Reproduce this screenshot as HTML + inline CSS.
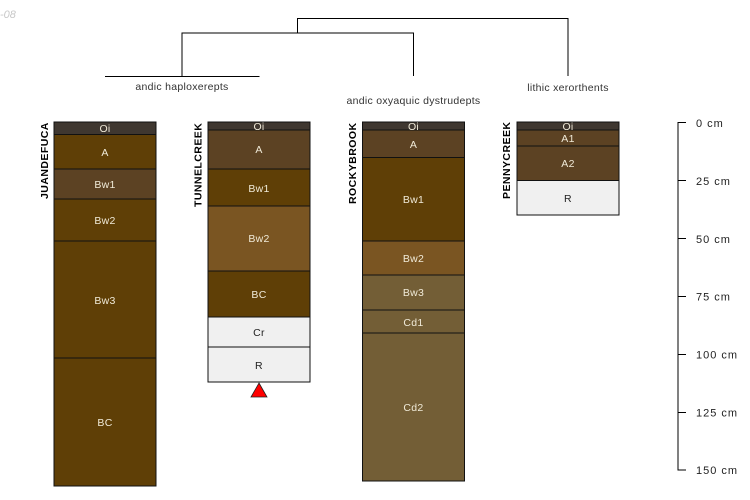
<!DOCTYPE html>
<html><head><meta charset="utf-8"><style>
html,body{margin:0;padding:0;background:#fff}
svg{display:block}
text{font-family:"Liberation Sans",sans-serif;font-size:10.5px}
.c{text-anchor:middle;fill:#f0ead8;letter-spacing:.3px}
.d{text-anchor:middle;fill:#222;letter-spacing:.3px}
.n{font-weight:bold;font-size:10.5px;fill:#000;letter-spacing:.45px}
.l{fill:#333;text-anchor:middle;letter-spacing:.28px}
text.s{font-size:11px;letter-spacing:1px;fill:#222}
</style></head><body>
<svg width="750" height="500" viewBox="0 0 750 500" xmlns="http://www.w3.org/2000/svg">
<text x="0" y="18" style="font-style:italic;font-size:11px" fill="#c8c8c8">-08</text>

<g fill="none" stroke="#000" stroke-width="1">
<path d="M297.5 33V18.5H568V76" />
<path d="M182 76V33H413.5V76" />
<path d="M105 76.5H259.5" />
</g>
<text class="l" x="182" y="90">andic haploxerepts</text>
<text class="l" x="413.5" y="104">andic oxyaquic dystrudepts</text>
<text class="l" x="568" y="91">lithic xerorthents</text>

<g stroke="#111" stroke-width="1">
<rect x="54" y="122" width="102" height="12.5" fill="#3f3730"/>
<rect x="54" y="134.5" width="102" height="34.5" fill="#5f3f06"/>
<rect x="54" y="169" width="102" height="30" fill="#5c4223"/>
<rect x="54" y="199" width="102" height="42" fill="#5f3f06"/>
<rect x="54" y="241" width="102" height="117" fill="#5f3f06"/>
<rect x="54" y="358" width="102" height="128" fill="#5f3f06"/>

<rect x="208" y="122" width="102" height="8" fill="#3f3730"/>
<rect x="208" y="130" width="102" height="39" fill="#5c4223"/>
<rect x="208" y="169" width="102" height="37" fill="#5f3f06"/>
<rect x="208" y="206" width="102" height="65" fill="#7a5522"/>
<rect x="208" y="271" width="102" height="46" fill="#5f3f06"/>
<rect x="208" y="317" width="102" height="30" fill="#f0f0f0"/>
<rect x="208" y="347" width="102" height="35" fill="#f0f0f0"/>

<rect x="362.5" y="122" width="102" height="8" fill="#3f3730"/>
<rect x="362.5" y="130" width="102" height="27.5" fill="#5c4223"/>
<rect x="362.5" y="157.5" width="102" height="83.5" fill="#5f3f06"/>
<rect x="362.5" y="241" width="102" height="34" fill="#7a5522"/>
<rect x="362.5" y="275" width="102" height="35" fill="#735e36"/>
<rect x="362.5" y="310" width="102" height="23" fill="#735e36"/>
<rect x="362.5" y="333" width="102" height="148" fill="#735e36"/>

<rect x="517" y="122" width="102" height="8" fill="#3f3730"/>
<rect x="517" y="130" width="102" height="16" fill="#5c4223"/>
<rect x="517" y="146" width="102" height="34.5" fill="#5c4223"/>
<rect x="517" y="180.5" width="102" height="34.5" fill="#f0f0f0"/>
</g>

<text class="c" x="105" y="132">Oi</text>
<text class="c" x="105" y="156">A</text>
<text class="c" x="105" y="188">Bw1</text>
<text class="c" x="105" y="224">Bw2</text>
<text class="c" x="105" y="304">Bw3</text>
<text class="c" x="105" y="426">BC</text>

<text class="c" x="259" y="130">Oi</text>
<text class="c" x="259" y="153">A</text>
<text class="c" x="259" y="192">Bw1</text>
<text class="c" x="259" y="242">Bw2</text>
<text class="c" x="259" y="298">BC</text>
<text class="d" x="259" y="336">Cr</text>
<text class="d" x="259" y="369">R</text>

<text class="c" x="413.5" y="130">Oi</text>
<text class="c" x="413.5" y="148">A</text>
<text class="c" x="413.5" y="203">Bw1</text>
<text class="c" x="413.5" y="262">Bw2</text>
<text class="c" x="413.5" y="296">Bw3</text>
<text class="c" x="413.5" y="326">Cd1</text>
<text class="c" x="413.5" y="411">Cd2</text>

<text class="c" x="568" y="130">Oi</text>
<text class="c" x="568" y="142">A1</text>
<text class="c" x="568" y="167">A2</text>
<text class="d" x="568" y="202">R</text>

<text class="n" transform="translate(48,199) rotate(-90)">JUANDEFUCA</text>
<text class="n" transform="translate(201.5,207) rotate(-90)">TUNNELCREEK</text>
<text class="n" transform="translate(356,204) rotate(-90)">ROCKYBROOK</text>
<text class="n" transform="translate(510,199) rotate(-90)">PENNYCREEK</text>

<polygon points="259,383 267,397 251,397" fill="#ff0000" stroke="#222" stroke-width="0.8"/>

<g fill="none" stroke="#000" stroke-width="1">
<path d="M686 122.5H678V470H686" />
<path d="M678 180.5H686M678 238.5H686M678 296.5H686M678 354.5H686M678 412.5H686" />
</g>
<text class="s" x="696" y="127">0 cm</text>
<text class="s" x="696" y="185">25 cm</text>
<text class="s" x="696" y="243">50 cm</text>
<text class="s" x="696" y="300.5">75 cm</text>
<text class="s" x="696" y="358.5">100 cm</text>
<text class="s" x="696" y="416.5">125 cm</text>
<text class="s" x="696" y="474">150 cm</text>
</svg>
</body></html>
